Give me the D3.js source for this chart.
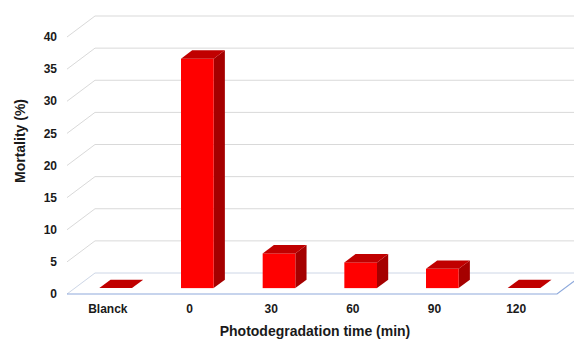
<!DOCTYPE html>
<html>
<head>
<meta charset="utf-8">
<script src="https://cdn.jsdelivr.net/npm/d3@7"></script>
<style>
  body { margin: 0; background: #fff; }
  text { font-family: "Liberation Sans", Arial, sans-serif; font-weight: bold; fill: #1a1a1a; }
</style>
</head>
<body>
<script>
// chart data
const categories = ["Blanck", "0", "30", "60", "90", "120"];
const mortality = [0, 35.7, 5.4, 4.0, 3.0, 0];
const yTicks = [0, 5, 10, 15, 20, 25, 30, 35, 40];

const width = 574, height = 340;

// front plane of the 3d box
const frontLeft = 67, frontRight = 557, frontBottom = 294, frontTop = 37;
// depth vector (front -> back wall)
const depthX = 28, depthY = -21;
// bars sit between these fractions of the depth
const barFrontFrac = 0.28, barBackFrac = 0.68;

const svg = d3.select("body").append("svg")
    .attr("width", width)
    .attr("height", height);

let x = d3.scaleBand()
    .domain(categories)
    .range([frontLeft, frontRight])
    .paddingInner(0.6)
    .paddingOuter(0.3);

let y = d3.scaleLinear()
    .domain([0, 40])
    .range([frontBottom, frontTop]);

// gridlines: back wall + left floor diagonal
const grid = svg.append("g").attr("class", "grid");
yTicks.forEach(t => {
    let yf = y(t);
    let col = t == 0 ? "#cdd6e6" : "#d9d9d9";
    grid.append("line")
        .attr("x1", frontLeft).attr("y1", yf)
        .attr("x2", frontLeft + depthX).attr("y2", yf + depthY)
        .attr("stroke", col).attr("stroke-width", 1);
    grid.append("line")
        .attr("x1", frontLeft + depthX).attr("y1", yf + depthY)
        .attr("x2", frontRight + depthX).attr("y2", yf + depthY)
        .attr("stroke", col).attr("stroke-width", 1);
});

// floor front edge (axis) and right diagonal
svg.append("path")
    .attr("d", d3.line()([
        [frontLeft, frontBottom],
        [frontRight, frontBottom],
        [frontRight + depthX, frontBottom + depthY]
    ]))
    .attr("fill", "none")
    .attr("stroke", "#8faadc")
    .attr("stroke-width", 1.2);

// bars
const fx = depthX * barFrontFrac, fy = depthY * barFrontFrac;
const bx = depthX * (barBackFrac - barFrontFrac), by = depthY * (barBackFrac - barFrontFrac);

const bars = svg.append("g").attr("class", "bars")
    .selectAll("g")
    .data(categories.map((c, i) => ({ cat: c, val: mortality[i] })))
    .enter().append("g");

bars.each(function (d) {
    let g = d3.select(this);
    let x0 = x(d.cat) + fx, x1 = x0 + x.bandwidth();
    let yb = y(0) + fy, yt = y(d.val) + fy;
    if (d.val > 0) {
        // side face
        g.append("path")
            .attr("d", d3.line()([[x1, yb], [x1, yt], [x1 + bx, yt + by], [x1 + bx, yb + by]]) + "Z")
            .attr("fill", "#a50000");
        // front face
        g.append("rect")
            .attr("x", x0).attr("y", yt)
            .attr("width", x1 - x0).attr("height", yb - yt)
            .attr("fill", "#ff0000");
    }
    // top face
    g.append("path")
        .attr("d", d3.line()([[x0, yt], [x1, yt], [x1 + bx, yt + by], [x0 + bx, yt + by]]) + "Z")
        .attr("fill", "#c00000");
});

// y tick labels
svg.append("g").selectAll("text")
    .data(yTicks)
    .enter().append("text")
    .attr("x", 57)
    .attr("y", d => y(d))
    .attr("dy", "0.35em")
    .attr("text-anchor", "end")
    .style("font-size", "12px")
    .text(d => d);

// category labels
svg.append("g").selectAll("text")
    .data(categories)
    .enter().append("text")
    .attr("x", d => x(d) + x.bandwidth() / 2)
    .attr("y", 309)
    .attr("dy", "0.35em")
    .attr("text-anchor", "middle")
    .style("font-size", "12px")
    .text(d => d);

// axis titles
svg.append("text")
    .attr("x", (frontLeft + frontRight) / 2 + 3)
    .attr("y", 331)
    .attr("dy", "0.35em")
    .attr("text-anchor", "middle")
    .style("font-size", "14px")
    .text("Photodegradation time (min)");

svg.append("text")
    .attr("transform", "translate(20,141) rotate(-90)")
    .attr("dy", "0.35em")
    .attr("text-anchor", "middle")
    .style("font-size", "14px")
    .text("Mortality (%)");
</script>
</body>
</html>
